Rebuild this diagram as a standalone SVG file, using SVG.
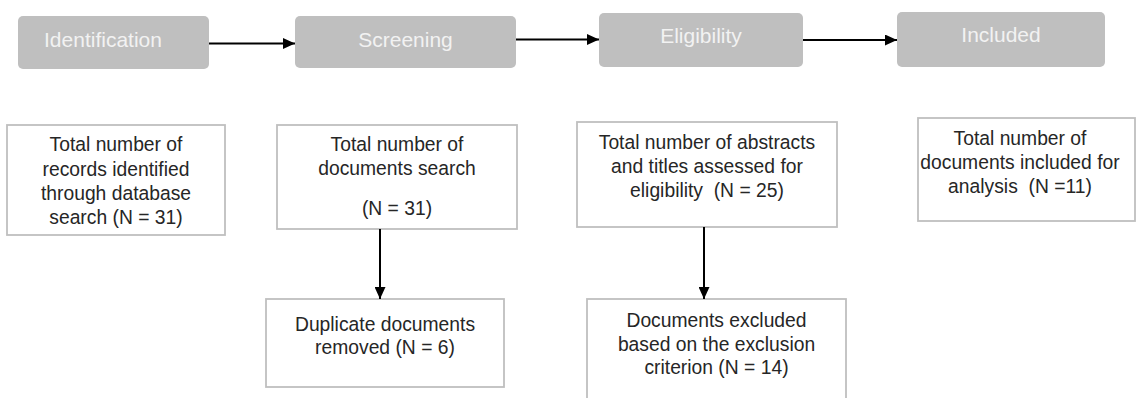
<svg xmlns="http://www.w3.org/2000/svg" width="1142" height="398" viewBox="0 0 1142 398">
<defs>
<marker id="ah" markerWidth="12" markerHeight="11" refX="12" refY="5.5" orient="auto" markerUnits="userSpaceOnUse">
<polygon points="0,0 12,5.5 0,11" fill="#000"/>
</marker>
<style>
.stage rect{fill:#BFBFBF;}
.stage text{font-family:"Liberation Sans",Arial,sans-serif;font-size:21px;fill:#F2F2F2;text-anchor:middle;}
.box rect{fill:#FFFFFF;stroke:#BFBFBF;stroke-width:1.8;}
.box text{font-family:"Liberation Sans",Arial,sans-serif;font-size:19.3px;fill:#262626;text-anchor:middle;white-space:pre;}
.conn line{stroke:#000;stroke-width:2;marker-end:url(#ah);}
</style>
</defs>
<rect width="1142" height="398" fill="#FFFFFF"/>
<g id="stage-identification" class="stage"><rect x="18" y="16" width="191" height="53" rx="5"/><text x="103" y="47">Identification</text></g>
<g id="stage-screening" class="stage"><rect x="295" y="16" width="221" height="52" rx="5"/><text x="405.5" y="47">Screening</text></g>
<g id="stage-eligibility" class="stage"><rect x="599" y="13" width="204" height="54" rx="5"/><text x="701" y="43">Eligibility</text></g>
<g id="stage-included" class="stage"><rect x="897" y="12" width="208" height="55" rx="5"/><text x="1001" y="42">Included</text></g>

<g id="box-records" class="box"><rect x="7" y="125" width="218" height="110"/>
<text><tspan x="116" y="151">Total number of</tspan><tspan x="116" y="175.5">records identified</tspan><tspan x="116" y="200">through database</tspan><tspan x="116" y="224">search (N = 31)</tspan></text></g>
<g id="box-documents" class="box"><rect x="277" y="125" width="240" height="104"/>
<text><tspan x="397" y="151">Total number of</tspan><tspan x="397" y="175">documents search</tspan><tspan x="397" y="215">(N = 31)</tspan></text></g>
<g id="box-abstracts" class="box"><rect x="577" y="122" width="260" height="105"/>
<text xml:space="preserve"><tspan x="707" y="149">Total number of abstracts</tspan><tspan x="707" y="173">and titles assessed for</tspan><tspan x="707" y="197">eligibility  (N = 25)</tspan></text></g>
<g id="box-included" class="box"><rect x="918" y="118" width="217" height="103"/>
<text xml:space="preserve"><tspan x="1020" y="145">Total number of</tspan><tspan x="1020" y="169">documents included for</tspan><tspan x="1020" y="193">analysis  (N =11)</tspan></text></g>
<g id="box-duplicates" class="box"><rect x="266" y="299" width="238" height="88"/>
<text><tspan x="385" y="331">Duplicate documents</tspan><tspan x="385" y="354">removed (N = 6)</tspan></text></g>
<g id="box-excluded" class="box"><rect x="587" y="299" width="259" height="110"/>
<text><tspan x="716.5" y="327">Documents excluded</tspan><tspan x="716.5" y="350.5">based on the exclusion</tspan><tspan x="716.5" y="374">criterion (N = 14)</tspan></text></g>

<g id="connectors" class="conn">
<line x1="209" y1="43.5" x2="295" y2="43.5"/>
<line x1="516" y1="39.5" x2="599" y2="39.5"/>
<line x1="803" y1="40" x2="897" y2="40"/>
<line x1="380" y1="229" x2="380" y2="299"/>
<line x1="704" y1="227" x2="704" y2="299"/>
</g>
</svg>
